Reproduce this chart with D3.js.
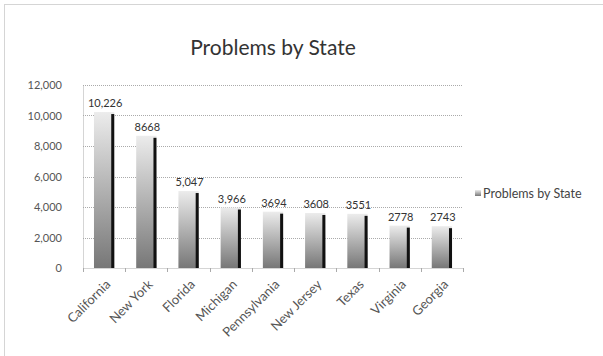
<!DOCTYPE html>
<html>
<head>
<meta charset="utf-8">
<script src="https://cdn.jsdelivr.net/npm/d3@7"></script>
<style>
  body { margin: 0; background: #fff; }
  text { font-family: Lato, "Open Sans", sans-serif; }
</style>
</head>
<body>
<div id="chart"></div>
<script>
const states = ["California", "New York", "Florida", "Michigan", "Pennsylvania", "New Jersey", "Texas", "Virginia", "Georgia"];
const problems = [10226, 8668, 5047, 3966, 3694, 3608, 3551, 2778, 2743];
const valueLabels = ["10,226", "8668", "5,047", "3,966", "3694", "3608", "3551", "2778", "2743"];
const yTicks = [0, 2000, 4000, 6000, 8000, 10000, 12000];

const W = 603, H = 356;
const margin = { top: 85, right: 140, bottom: 88, left: 83 };
const width = W - margin.left - margin.right;
const height = H - margin.top - margin.bottom;

const root = d3.select("#chart").append("svg")
  .attr("width", W)
  .attr("height", H);

// chart border (dotted, only top/left visible)
root.append("rect")
  .attr("x", 4.5).attr("y", 4.5)
  .attr("width", W + 20).attr("height", H + 20)
  .attr("fill", "none")
  .attr("stroke", "#aaa")
  .attr("stroke-dasharray", "1,1");

const defs = root.append("defs");
const grad = defs.append("linearGradient")
  .attr("id", "barGrad")
  .attr("x1", 0).attr("y1", 0).attr("x2", 0).attr("y2", 1);
grad.append("stop").attr("offset", "0%").attr("stop-color", "#ececec");
grad.append("stop").attr("offset", "100%").attr("stop-color", "#777");

root.append("text")
  .attr("x", 273)
  .attr("y", 55)
  .attr("text-anchor", "middle")
  .style("font-size", "21px")
  .attr("fill", "#333")
  .text("Problems by State");

const svg = root.append("g")
  .attr("transform", "translate(" + margin.left + "," + margin.top + ")");

const x = d3.scaleBand()
  .domain(states)
  .range([0, width])
  .paddingInner(0.52)
  .paddingOuter(0.26);

const y = d3.scaleLinear()
  .domain([0, 12000])
  .range([height, 0]);

// gridlines
svg.append("g")
  .selectAll("line")
  .data(yTicks.filter(d => d > 0))
  .enter()
  .append("line")
  .attr("x1", 0)
  .attr("x2", width)
  .attr("y1", d => Math.round(y(d)) + 0.5)
  .attr("y2", d => Math.round(y(d)) + 0.5)
  .attr("stroke", "#aaa")
  .attr("stroke-dasharray", "1,1");

const yAxis = d3.axisLeft(y)
  .tickValues(yTicks)
  .tickSize(0)
  .tickPadding(21)
  .tickFormat(d3.format(",d"));

svg.append("g")
  .call(yAxis)
  .call(g => g.select(".domain").attr("stroke", "#aaa").attr("stroke-dasharray", "1,1"))
  .call(g => g.selectAll("text").style("font-size", "11px").attr("fill", "#555"));

// bars
const bars = svg.selectAll(".bar")
  .data(states)
  .enter()
  .append("g")
  .attr("class", "bar");

bars.append("rect")
  .attr("x", d => x(d))
  .attr("y", (d, i) => y(problems[i]))
  .attr("width", x.bandwidth())
  .attr("height", (d, i) => height - y(problems[i]))
  .attr("fill", "url(#barGrad)");

bars.append("rect")
  .attr("x", d => x(d) + x.bandwidth() - 3)
  .attr("y", (d, i) => y(problems[i]) + 2)
  .attr("width", 3)
  .attr("height", (d, i) => height - y(problems[i]) - 2)
  .attr("fill", "#111");

bars.append("text")
  .attr("x", d => x(d) + x.bandwidth() / 2 + 1)
  .attr("y", (d, i) => y(problems[i]) - 5)
  .attr("text-anchor", "middle")
  .style("font-size", "11px")
  .attr("fill", "#333")
  .text((d, i) => valueLabels[i]);

// x axis
const xAxis = d3.axisBottom(x).tickSize(0);
const xg = svg.append("g")
  .attr("transform", "translate(0," + height + ")")
  .call(xAxis);
xg.select(".domain").attr("stroke", "#aaa").attr("stroke-dasharray", "1,1");
xg.selectAll("text")
  .style("font-size", "13px")
  .attr("fill", "#555")
  .attr("text-anchor", "end")
  .attr("y", 0)
  .attr("dy", "0.35em")
  .attr("transform", "translate(4,14) rotate(-45)");

// category separator ticks
svg.append("g")
  .selectAll("line")
  .data(d3.range(states.length + 1))
  .enter()
  .append("line")
  .attr("x1", i => Math.round(i * width / states.length) + 0.5)
  .attr("x2", i => Math.round(i * width / states.length) + 0.5)
  .attr("y1", height)
  .attr("y2", height + 4)
  .attr("stroke", "#aaa");

// legend
const legend = root.append("g")
  .attr("transform", "translate(475,198)");
legend.append("rect")
  .attr("x", 0).attr("y", -8)
  .attr("width", 6).attr("height", 6)
  .attr("fill", "url(#barGrad)");
legend.append("text")
  .attr("x", 8)
  .attr("y", 0)
  .style("font-size", "12.5px")
  .attr("fill", "#444")
  .text("Problems by State");
</script>
</body>
</html>
